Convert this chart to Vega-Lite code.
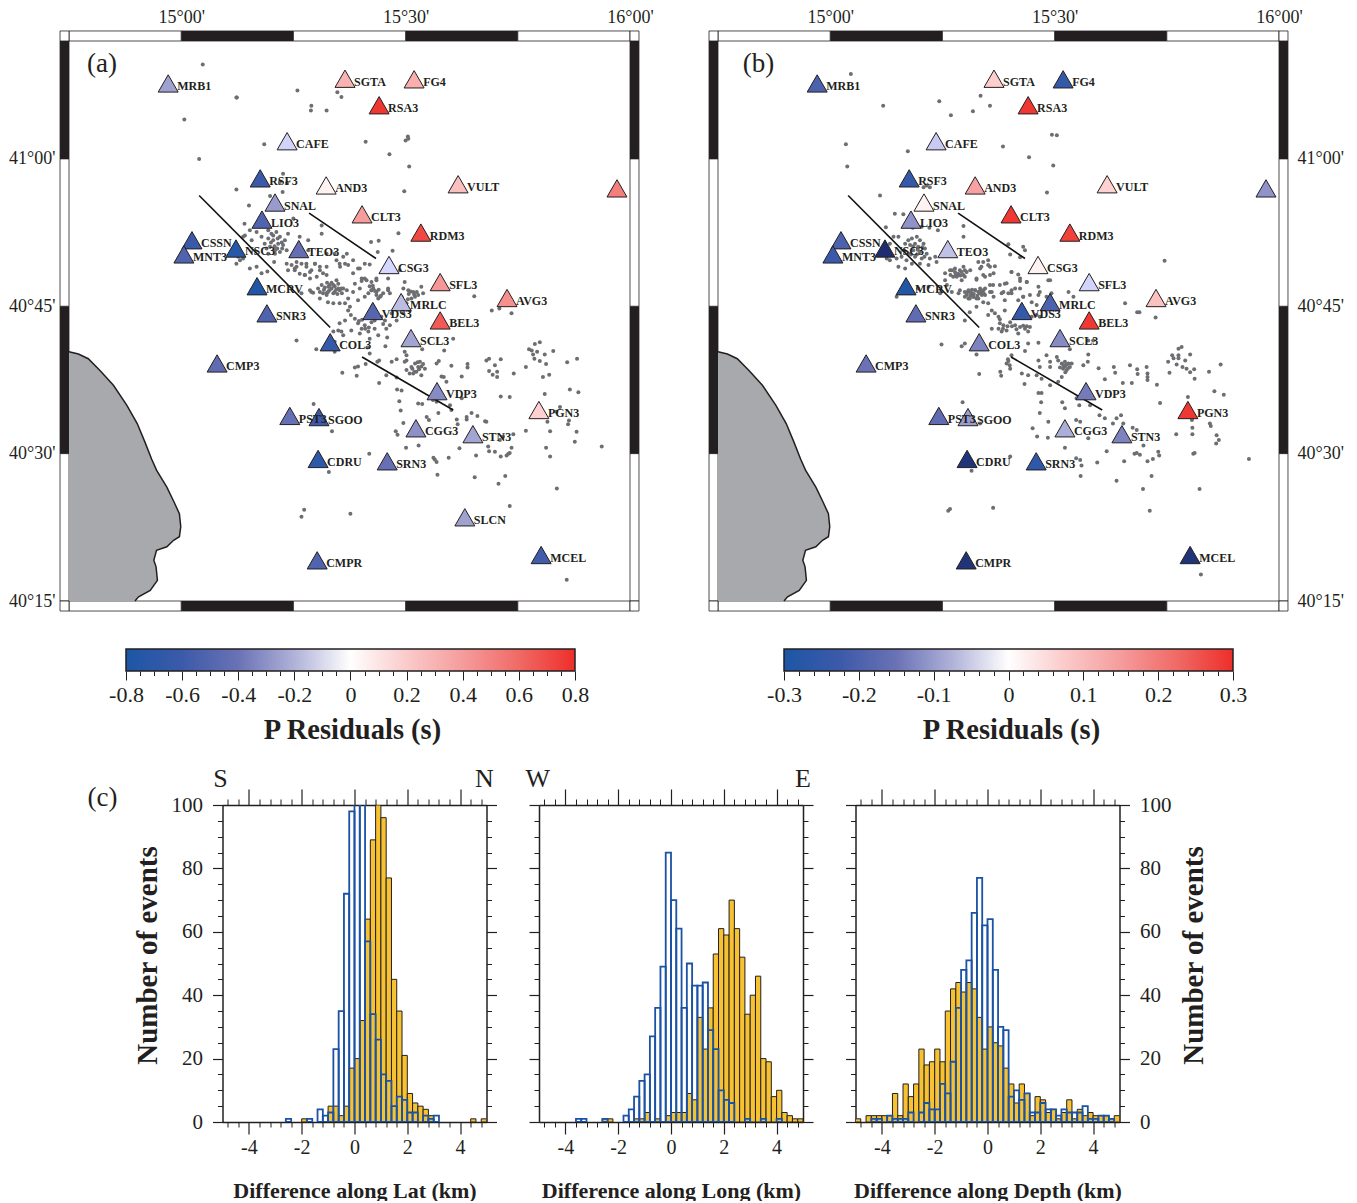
{"$schema":"https://vega.github.io/schema/vega-lite/v6.json","padding":{"left":8,"top":8,"right":0,"bottom":0},"background":"white",
"config":{"view":{"stroke":null},"axis":{"grid":false,"labelFont":"Liberation Serif","titleFont":"Liberation Serif","labelColor":"#231f20","titleColor":"#231f20","tickColor":"#231f20","domainColor":"#231f20","labelOverlap":false,"labelFlush":false,"labelBound":false}},
"datasets":{
"frame":[
{"lon":15,"lon2":15.25,"lat":41.2,"lat2":41.217,"band":"dark"},{"lon":15.5,"lon2":15.75,"lat":41.2,"lat2":41.217,"band":"dark"},
{"lon":15,"lon2":15.25,"lat":40.233,"lat2":40.25,"band":"dark"},{"lon":15.5,"lon2":15.75,"lat":40.233,"lat2":40.25,"band":"dark"},
{"lon":14.73,"lon2":14.75,"lat":40.5,"lat2":40.75,"band":"dark"},{"lon":14.73,"lon2":14.75,"lat":41,"lat2":41.2,"band":"dark"},
{"lon":16,"lon2":16.02,"lat":40.5,"lat2":40.75,"band":"dark"},{"lon":16,"lon2":16.02,"lat":41,"lat2":41.2,"band":"dark"},
{"lon":14.75,"lon2":15,"lat":41.2,"lat2":41.217,"band":"light"},{"lon":15.25,"lon2":15.5,"lat":41.2,"lat2":41.217,"band":"light"},{"lon":15.75,"lon2":16,"lat":41.2,"lat2":41.217,"band":"light"},
{"lon":14.75,"lon2":15,"lat":40.233,"lat2":40.25,"band":"light"},{"lon":15.25,"lon2":15.5,"lat":40.233,"lat2":40.25,"band":"light"},{"lon":15.75,"lon2":16,"lat":40.233,"lat2":40.25,"band":"light"},
{"lon":14.73,"lon2":14.75,"lat":40.25,"lat2":40.5,"band":"light"},{"lon":14.73,"lon2":14.75,"lat":40.75,"lat2":41,"band":"light"},
{"lon":16,"lon2":16.02,"lat":40.25,"lat2":40.5,"band":"light"},{"lon":16,"lon2":16.02,"lat":40.75,"lat2":41,"band":"light"},
{"lon":14.73,"lon2":14.75,"lat":41.2,"lat2":41.217,"band":"light"},{"lon":16,"lon2":16.02,"lat":41.2,"lat2":41.217,"band":"light"},
{"lon":14.73,"lon2":14.75,"lat":40.233,"lat2":40.25,"band":"light"},{"lon":16,"lon2":16.02,"lat":40.233,"lat2":40.25,"band":"light"}],
"coast":[{"lon":14.75,"lat":40.673,"w":14.75},{"lon":14.771,"lat":40.669,"w":14.75},{"lon":14.793,"lat":40.661,"w":14.75},{"lon":14.819,"lat":40.641,"w":14.75},{"lon":14.849,"lat":40.616,"w":14.75},{"lon":14.879,"lat":40.582,"w":14.75},{"lon":14.902,"lat":40.551,"w":14.75},{"lon":14.919,"lat":40.52,"w":14.75},{"lon":14.934,"lat":40.491,"w":14.75},{"lon":14.945,"lat":40.472,"w":14.75},{"lon":14.968,"lat":40.443,"w":14.75},{"lon":14.984,"lat":40.418,"w":14.75},{"lon":14.996,"lat":40.398,"w":14.75},{"lon":14.999,"lat":40.376,"w":14.75},{"lon":14.996,"lat":40.359,"w":14.75},{"lon":14.983,"lat":40.353,"w":14.75},{"lon":14.968,"lat":40.342,"w":14.75},{"lon":14.945,"lat":40.336,"w":14.75},{"lon":14.939,"lat":40.319,"w":14.75},{"lon":14.944,"lat":40.308,"w":14.75},{"lon":14.947,"lat":40.285,"w":14.75},{"lon":14.931,"lat":40.268,"w":14.75},{"lon":14.905,"lat":40.257,"w":14.75},{"lon":14.897,"lat":40.25,"w":14.75}],
"faults":[{"id":1,"lon":15.04,"lat":40.938},{"id":1,"lon":15.332,"lat":40.714},{"id":2,"lon":15.285,"lat":40.908},{"id":2,"lon":15.434,"lat":40.831},{"id":3,"lon":15.403,"lat":40.664},{"id":3,"lon":15.606,"lat":40.574}],
"stations":[
{"name":"MRB1","lon":14.971,"lat":41.128,"ra":-0.25,"rb":-0.2},
{"name":"SGTA","lon":15.365,"lat":41.136,"ra":0.3,"rb":0.07},
{"name":"FG4","lon":15.519,"lat":41.135,"ra":0.32,"rb":-0.25},
{"name":"RSA3","lon":15.441,"lat":41.091,"ra":0.78,"rb":0.29},
{"name":"CAFE","lon":15.236,"lat":41.03,"ra":-0.11,"rb":-0.05},
{"name":"RSF3","lon":15.176,"lat":40.967,"ra":-0.62,"rb":-0.25},
{"name":"AND3","lon":15.323,"lat":40.955,"ra":0,"rb":0.14},
{"name":"VULT","lon":15.617,"lat":40.957,"ra":0.25,"rb":0.06},
{"name":"SNAL","lon":15.209,"lat":40.926,"ra":-0.27,"rb":0},
{"name":"LIO3","lon":15.18,"lat":40.897,"ra":-0.52,"rb":-0.11},
{"name":"CLT3","lon":15.403,"lat":40.906,"ra":0.4,"rb":0.29},
{"name":"RDM3","lon":15.534,"lat":40.875,"ra":0.72,"rb":0.28},
{"name":"CSSN","lon":15.024,"lat":40.862,"ra":-0.62,"rb":-0.2},
{"name":"MNT3","lon":15.006,"lat":40.838,"ra":-0.52,"rb":-0.23},
{"name":"NSC3","lon":15.122,"lat":40.848,"ra":-0.75,"rb":-0.4},
{"name":"TEO3","lon":15.262,"lat":40.847,"ra":-0.43,"rb":-0.06},
{"name":"CSG3","lon":15.463,"lat":40.82,"ra":-0.1,"rb":0},
{"name":"SFL3","lon":15.577,"lat":40.791,"ra":0.42,"rb":-0.04},
{"name":"MCRV","lon":15.169,"lat":40.784,"ra":-0.78,"rb":-0.29},
{"name":"AVG3","lon":15.726,"lat":40.764,"ra":0.45,"rb":0.09},
{"name":"MRLC","lon":15.49,"lat":40.757,"ra":-0.17,"rb":-0.2},
{"name":"VDS3","lon":15.427,"lat":40.742,"ra":-0.5,"rb":-0.25},
{"name":"SNR3","lon":15.191,"lat":40.738,"ra":-0.52,"rb":-0.17},
{"name":"BEL3","lon":15.577,"lat":40.726,"ra":0.66,"rb":0.29},
{"name":"SCL3","lon":15.512,"lat":40.696,"ra":-0.24,"rb":-0.12},
{"name":"COL3","lon":15.332,"lat":40.689,"ra":-0.65,"rb":-0.13},
{"name":"CMP3","lon":15.08,"lat":40.653,"ra":-0.45,"rb":-0.15},
{"name":"VDP3","lon":15.57,"lat":40.606,"ra":-0.32,"rb":-0.14},
{"name":"PGN3","lon":15.797,"lat":40.574,"ra":0.17,"rb":0.29},
{"name":"PST3","lon":15.242,"lat":40.564,"ra":-0.42,"rb":-0.17},
{"name":"SGOO","lon":15.307,"lat":40.562,"ra":-0.6,"rb":-0.1},
{"name":"CGG3","lon":15.523,"lat":40.543,"ra":-0.3,"rb":-0.08},
{"name":"STN3","lon":15.65,"lat":40.533,"ra":-0.24,"rb":-0.13},
{"name":"CDRU","lon":15.305,"lat":40.491,"ra":-0.7,"rb":-0.38},
{"name":"SRN3","lon":15.459,"lat":40.487,"ra":-0.42,"rb":-0.26},
{"name":"SLCN","lon":15.632,"lat":40.392,"ra":-0.25,"rb":null},
{"name":"CMPR","lon":15.303,"lat":40.319,"ra":-0.52,"rb":-0.38},
{"name":"MCEL","lon":15.802,"lat":40.328,"ra":-0.58,"rb":-0.38},
{"name":"","lon":15.971,"lat":40.95,"ra":0.52,"rb":-0.11}],
"dotsA":[{"lon":15.048,"lat":41.16},{"lon":15.123,"lat":41.104},{"lon":15.259,"lat":41.116},{"lon":15.348,"lat":41.113},{"lon":15.357,"lat":41.105},{"lon":15.289,"lat":41.082},{"lon":15.324,"lat":41.082},{"lon":15.007,"lat":41.067},{"lon":15.185,"lat":41.025},{"lon":15.411,"lat":41.029},{"lon":15.506,"lat":41.034},{"lon":15.5,"lat":41.031},{"lon":15.464,"lat":41.008},{"lon":15.04,"lat":41},{"lon":15.508,"lat":40.987},{"lon":15.123,"lat":40.948},{"lon":15.227,"lat":40.975},{"lon":15.22,"lat":40.961},{"lon":15.236,"lat":40.959},{"lon":15.226,"lat":40.944},{"lon":15.198,"lat":40.937},{"lon":15.151,"lat":40.921},{"lon":15.497,"lat":40.945},{"lon":15.141,"lat":40.89},{"lon":15.313,"lat":40.887},{"lon":15.313,"lat":40.873},{"lon":15.25,"lat":40.899},{"lon":15.484,"lat":40.874},{"lon":15.423,"lat":40.859},{"lon":15.44,"lat":40.861},{"lon":15.438,"lat":40.842},{"lon":15.471,"lat":40.844},
{"lon":15.194,"lat":40.879},{"lon":15.201,"lat":40.873},{"lon":15.212,"lat":40.876},{"lon":15.22,"lat":40.868},{"lon":15.231,"lat":40.862},{"lon":15.238,"lat":40.873},{"lon":15.227,"lat":40.854},{"lon":15.216,"lat":40.856},{"lon":15.205,"lat":40.862},{"lon":15.194,"lat":40.865},{"lon":15.186,"lat":40.856},{"lon":15.198,"lat":40.851},{"lon":15.209,"lat":40.845},{"lon":15.22,"lat":40.842},{"lon":15.235,"lat":40.845},{"lon":15.194,"lat":40.839},{"lon":15.179,"lat":40.868},{"lon":15.168,"lat":40.876},{"lon":15.153,"lat":40.879},{"lon":15.138,"lat":40.868},{"lon":15.157,"lat":40.862},{"lon":15.142,"lat":40.87},{"lon":15.131,"lat":40.828},{"lon":15.123,"lat":40.822},{"lon":15.138,"lat":40.831},{"lon":15.127,"lat":40.834},{"lon":15.153,"lat":40.814},{"lon":15.168,"lat":40.817},{"lon":15.192,"lat":40.809},{"lon":15.179,"lat":40.806},{"lon":15.209,"lat":40.839},{"lon":15.207,"lat":40.825},{"lon":15.235,"lat":40.822},{"lon":15.246,"lat":40.82},{"lon":15.257,"lat":40.817},{"lon":15.238,"lat":40.811},{"lon":15.253,"lat":40.811},{"lon":15.268,"lat":40.822},{"lon":15.279,"lat":40.817},{"lon":15.298,"lat":40.822},{"lon":15.309,"lat":40.817},{"lon":15.29,"lat":40.811},{"lon":15.276,"lat":40.803},{"lon":15.287,"lat":40.797},{"lon":15.302,"lat":40.8},{"lon":15.316,"lat":40.806},{"lon":15.324,"lat":40.817},{"lon":15.346,"lat":40.828},{"lon":15.361,"lat":40.834},{"lon":15.369,"lat":40.839},{"lon":15.383,"lat":40.828},{"lon":15.365,"lat":40.822},{"lon":15.354,"lat":40.817},{"lon":15.342,"lat":40.839},{"lon":15.324,"lat":40.839},{"lon":15.313,"lat":40.786},{"lon":15.328,"lat":40.783},{"lon":15.339,"lat":40.786},{"lon":15.35,"lat":40.78},{"lon":15.361,"lat":40.78},{"lon":15.342,"lat":40.774},{"lon":15.324,"lat":40.772},{"lon":15.309,"lat":40.774},{"lon":15.369,"lat":40.777},{"lon":15.29,"lat":40.774},{"lon":15.268,"lat":40.772},{"lon":15.283,"lat":40.845},{"lon":15.283,"lat":40.862},{"lon":15.264,"lat":40.868},{"lon":15.398,"lat":40.814},{"lon":15.409,"lat":40.797},{"lon":15.424,"lat":40.791},{"lon":15.402,"lat":40.797},{"lon":15.383,"lat":40.806},{"lon":15.435,"lat":40.797},{"lon":15.424,"lat":40.777},{"lon":15.435,"lat":40.774},{"lon":15.398,"lat":40.78},{"lon":15.461,"lat":40.797},{"lon":15.461,"lat":40.777},{"lon":15.487,"lat":40.811},{"lon":15.491,"lat":40.766},{"lon":15.443,"lat":40.766},
{"lon":15.32,"lat":40.782},{"lon":15.327,"lat":40.774},{"lon":15.335,"lat":40.78},{"lon":15.342,"lat":40.784},{"lon":15.35,"lat":40.788},{"lon":15.353,"lat":40.777},{"lon":15.339,"lat":40.772},{"lon":15.324,"lat":40.769},{"lon":15.346,"lat":40.794},{"lon":15.357,"lat":40.78},{"lon":15.331,"lat":40.786},{"lon":15.316,"lat":40.772},{"lon":15.387,"lat":40.788},{"lon":15.402,"lat":40.793},{"lon":15.413,"lat":40.794},{"lon":15.424,"lat":40.777},{"lon":15.417,"lat":40.772},{"lon":15.435,"lat":40.769},{"lon":15.439,"lat":40.763},{"lon":15.428,"lat":40.78},{"lon":15.45,"lat":40.772},{"lon":15.435,"lat":40.794},{"lon":15.383,"lat":40.774},{"lon":15.372,"lat":40.763},{"lon":15.365,"lat":40.755},{"lon":15.376,"lat":40.749},{"lon":15.353,"lat":40.755},{"lon":15.339,"lat":40.755},{"lon":15.327,"lat":40.757},{"lon":15.309,"lat":40.763},{"lon":15.294,"lat":40.773},{"lon":15.287,"lat":40.777},{"lon":15.394,"lat":40.76},{"lon":15.409,"lat":40.766},{"lon":15.372,"lat":40.743},{"lon":15.387,"lat":40.729},{"lon":15.394,"lat":40.721},{"lon":15.402,"lat":40.712},{"lon":15.409,"lat":40.718},{"lon":15.424,"lat":40.723},{"lon":15.431,"lat":40.712},{"lon":15.439,"lat":40.701},{"lon":15.457,"lat":40.712},{"lon":15.465,"lat":40.718},{"lon":15.446,"lat":40.732},{"lon":15.454,"lat":40.726},{"lon":15.365,"lat":40.726},{"lon":15.353,"lat":40.721},{"lon":15.35,"lat":40.709},{"lon":15.339,"lat":40.707},{"lon":15.357,"lat":40.707},{"lon":15.379,"lat":40.709},{"lon":15.398,"lat":40.704},{"lon":15.417,"lat":40.707},{"lon":15.42,"lat":40.695},{"lon":15.431,"lat":40.726},{"lon":15.469,"lat":40.738},{"lon":15.495,"lat":40.78},{"lon":15.506,"lat":40.777},{"lon":15.517,"lat":40.774},{"lon":15.513,"lat":40.763},{"lon":15.521,"lat":40.766},{"lon":15.502,"lat":40.755},{"lon":15.509,"lat":40.743},{"lon":15.495,"lat":40.738},{"lon":15.48,"lat":40.726},{"lon":15.465,"lat":40.772},{"lon":15.461,"lat":40.78},{"lon":15.498,"lat":40.791},{"lon":15.535,"lat":40.783},{"lon":15.539,"lat":40.772},{"lon":15.528,"lat":40.769},{"lon":15.253,"lat":40.814},{"lon":15.264,"lat":40.805},{"lon":15.275,"lat":40.803},{"lon":15.287,"lat":40.808},{"lon":15.298,"lat":40.822},{"lon":15.309,"lat":40.811},{"lon":15.279,"lat":40.822},{"lon":15.257,"lat":40.825},{"lon":15.324,"lat":40.803},{"lon":15.353,"lat":40.822},{"lon":15.372,"lat":40.82},{"lon":15.394,"lat":40.814},{"lon":15.409,"lat":40.822},{"lon":15.42,"lat":40.821},
{"lon":15.257,"lat":40.692},{"lon":15.359,"lat":40.637},{"lon":15.391,"lat":40.632},{"lon":15.387,"lat":40.646},{"lon":15.394,"lat":40.648},{"lon":15.441,"lat":40.62},{"lon":15.411,"lat":40.652},{"lon":15.437,"lat":40.656},{"lon":15.441,"lat":40.658},{"lon":15.469,"lat":40.656},{"lon":15.48,"lat":40.66},{"lon":15.498,"lat":40.656},{"lon":15.502,"lat":40.658},{"lon":15.457,"lat":40.633},{"lon":15.48,"lat":40.629},{"lon":15.502,"lat":40.642},{"lon":15.513,"lat":40.647},{"lon":15.521,"lat":40.653},{"lon":15.532,"lat":40.656},{"lon":15.539,"lat":40.652},{"lon":15.509,"lat":40.636},{"lon":15.524,"lat":40.639},{"lon":15.535,"lat":40.633},{"lon":15.543,"lat":40.644},{"lon":15.528,"lat":40.647},{"lon":15.569,"lat":40.653},{"lon":15.574,"lat":40.657},{"lon":15.602,"lat":40.649},{"lon":15.638,"lat":40.652},{"lon":15.638,"lat":40.646},{"lon":15.625,"lat":40.631},{"lon":15.58,"lat":40.631},{"lon":15.585,"lat":40.63},{"lon":15.591,"lat":40.622},{"lon":15.68,"lat":40.658},{"lon":15.686,"lat":40.661},{"lon":15.712,"lat":40.66},{"lon":15.699,"lat":40.65},{"lon":15.686,"lat":40.64},{"lon":15.694,"lat":40.634},{"lon":15.704,"lat":40.639},{"lon":15.704,"lat":40.63},{"lon":15.741,"lat":40.636},{"lon":15.768,"lat":40.647},{"lon":15.788,"lat":40.686},{"lon":15.799,"lat":40.689},{"lon":15.775,"lat":40.677},{"lon":15.781,"lat":40.675},{"lon":15.793,"lat":40.673},{"lon":15.784,"lat":40.668},{"lon":15.787,"lat":40.661},{"lon":15.799,"lat":40.657},{"lon":15.81,"lat":40.668},{"lon":15.813,"lat":40.652},{"lon":15.829,"lat":40.674},{"lon":15.86,"lat":40.655},{"lon":15.882,"lat":40.661},{"lon":15.806,"lat":40.63},{"lon":15.82,"lat":40.634},{"lon":15.866,"lat":40.609},{"lon":15.885,"lat":40.604},{"lon":15.81,"lat":40.601},{"lon":15.712,"lat":40.597},{"lon":15.732,"lat":40.596},{"lon":15.481,"lat":40.609},{"lon":15.491,"lat":40.607},{"lon":15.486,"lat":40.589},{"lon":15.489,"lat":40.573},{"lon":15.528,"lat":40.585},{"lon":15.537,"lat":40.584},{"lon":15.573,"lat":40.569},{"lon":15.547,"lat":40.562},{"lon":15.552,"lat":40.557},{"lon":15.495,"lat":40.552},{"lon":15.478,"lat":40.538},{"lon":15.482,"lat":40.532},{"lon":15.614,"lat":40.558},{"lon":15.616,"lat":40.55},{"lon":15.636,"lat":40.562},{"lon":15.636,"lat":40.558},{"lon":15.647,"lat":40.569},{"lon":15.66,"lat":40.564},{"lon":15.677,"lat":40.555},{"lon":15.68,"lat":40.554},{"lon":15.625,"lat":40.594},{"lon":15.599,"lat":40.582},{"lon":15.602,"lat":40.574},{"lon":15.561,"lat":40.591},{"lon":15.569,"lat":40.588},{"lon":15.844,"lat":40.579},{"lon":15.836,"lat":40.571},{"lon":15.816,"lat":40.554},{"lon":15.864,"lat":40.556},{"lon":15.862,"lat":40.55},{"lon":15.768,"lat":40.539},{"lon":15.822,"lat":40.538},{"lon":15.881,"lat":40.537},{"lon":15.877,"lat":40.52},{"lon":15.71,"lat":40.523},{"lon":15.74,"lat":40.533},{"lon":15.717,"lat":40.529},{"lon":15.684,"lat":40.512},{"lon":15.686,"lat":40.504},{"lon":15.699,"lat":40.503},{"lon":15.712,"lat":40.495},{"lon":15.725,"lat":40.497},{"lon":15.729,"lat":40.5},{"lon":15.736,"lat":40.51},{"lon":15.732,"lat":40.501},{"lon":15.657,"lat":40.497},{"lon":15.62,"lat":40.509},{"lon":15.596,"lat":40.493},{"lon":15.501,"lat":40.51},{"lon":15.529,"lat":40.514},{"lon":15.419,"lat":40.5},{"lon":15.336,"lat":40.538},{"lon":15.329,"lat":40.469},{"lon":15.562,"lat":40.493},{"lon":15.565,"lat":40.49},{"lon":15.569,"lat":40.486},{"lon":15.571,"lat":40.464},{"lon":15.654,"lat":40.46},{"lon":15.707,"lat":40.449},{"lon":15.722,"lat":40.462},{"lon":15.837,"lat":40.441},{"lon":15.813,"lat":40.51},{"lon":15.822,"lat":40.495},{"lon":15.937,"lat":40.512},{"lon":15.732,"lat":40.411},{"lon":15.274,"lat":40.405},{"lon":15.268,"lat":40.393},{"lon":15.377,"lat":40.398},{"lon":15.859,"lat":40.286},{"lon":15.295,"lat":40.584},{"lon":15.301,"lat":40.677},{"lon":15.342,"lat":40.673},{"lon":15.322,"lat":40.683},{"lon":15.653,"lat":40.767},{"lon":15.692,"lat":40.743},{"lon":15.709,"lat":40.746},{"lon":15.736,"lat":40.738},{"lon":15.606,"lat":40.695},{"lon":15.586,"lat":40.675},{"lon":15.537,"lat":40.677},{"lon":15.498,"lat":40.673},{"lon":15.502,"lat":40.667},{"lon":15.455,"lat":40.682},{"lon":15.459,"lat":40.697},{"lon":15.42,"lat":40.67},{"lon":15.415,"lat":40.68},{"lon":15.361,"lat":40.701},{"lon":15.342,"lat":40.69},{"lon":15.124,"lat":41.104},{"lon":15.29,"lat":41.09},{"lon":15.505,"lat":41.038},
{"lon":15.205,"lat":40.87},{"lon":15.215,"lat":40.865},{"lon":15.224,"lat":40.858},{"lon":15.208,"lat":40.852},{"lon":15.2,"lat":40.858},{"lon":15.225,"lat":40.848},{"lon":15.214,"lat":40.848},{"lon":15.19,"lat":40.848},{"lon":15.318,"lat":40.778},{"lon":15.33,"lat":40.777},{"lon":15.345,"lat":40.778},{"lon":15.335,"lat":40.79},{"lon":15.325,"lat":40.79},{"lon":15.348,"lat":40.771},{"lon":15.358,"lat":40.772},{"lon":15.305,"lat":40.78},{"lon":15.427,"lat":40.785},{"lon":15.42,"lat":40.784},{"lon":15.432,"lat":40.776},{"lon":15.44,"lat":40.778},{"lon":15.445,"lat":40.768},{"lon":15.507,"lat":40.771},{"lon":15.511,"lat":40.775},{"lon":15.519,"lat":40.77},{"lon":15.525,"lat":40.774},{"lon":15.505,"lat":40.762},{"lon":15.396,"lat":40.725},{"lon":15.41,"lat":40.712},{"lon":15.403,"lat":40.727},{"lon":15.418,"lat":40.714},{"lon":15.45,"lat":40.72},{"lon":15.378,"lat":40.735},{"lon":15.515,"lat":40.644},{"lon":15.52,"lat":40.639},{"lon":15.53,"lat":40.643},{"lon":15.517,"lat":40.636},{"lon":15.527,"lat":40.655},{"lon":15.535,"lat":40.648}],
"dotsB":[{"lon":15.046,"lat":41.144},{"lon":15.118,"lat":41.09},{"lon":15.243,"lat":41.098},{"lon":15.335,"lat":41.107},{"lon":15.356,"lat":41.09},{"lon":15.318,"lat":41.081},{"lon":15.269,"lat":41.074},{"lon":15.035,"lat":41.025},{"lon":15.173,"lat":41.013},{"lon":15.385,"lat":41.021},{"lon":15.494,"lat":41.041},{"lon":15.505,"lat":41.04},{"lon":15.443,"lat":41.003},{"lon":15.497,"lat":40.989},{"lon":15.038,"lat":40.987},{"lon":15.111,"lat":40.938},{"lon":15.483,"lat":40.943},{"lon":15.215,"lat":40.955},{"lon":15.222,"lat":40.952},{"lon":15.208,"lat":40.952},{"lon":15.144,"lat":40.907},{"lon":15.163,"lat":40.906},{"lon":15.297,"lat":40.886},{"lon":15.297,"lat":40.868},{"lon":15.124,"lat":40.884},{"lon":15.184,"lat":40.883},{"lon":15.204,"lat":40.885},{"lon":15.221,"lat":40.883},{"lon":15.24,"lat":40.879},{"lon":15.141,"lat":40.868},{"lon":15.152,"lat":40.868},{"lon":15.133,"lat":40.856},{"lon":15.397,"lat":40.855},{"lon":15.43,"lat":40.851},{"lon":15.434,"lat":40.845},{"lon":15.401,"lat":40.838},{"lon":15.423,"lat":40.833},
{"lon":15.174,"lat":40.862},{"lon":15.182,"lat":40.865},{"lon":15.193,"lat":40.868},{"lon":15.2,"lat":40.862},{"lon":15.208,"lat":40.856},{"lon":15.189,"lat":40.856},{"lon":15.178,"lat":40.854},{"lon":15.167,"lat":40.856},{"lon":15.196,"lat":40.851},{"lon":15.211,"lat":40.848},{"lon":15.185,"lat":40.845},{"lon":15.2,"lat":40.842},{"lon":15.174,"lat":40.839},{"lon":15.215,"lat":40.839},{"lon":15.189,"lat":40.834},{"lon":15.204,"lat":40.831},{"lon":15.222,"lat":40.831},{"lon":15.234,"lat":40.834},{"lon":15.17,"lat":40.828},{"lon":15.159,"lat":40.834},{"lon":15.148,"lat":40.831},{"lon":15.133,"lat":40.828},{"lon":15.126,"lat":40.831},{"lon":15.152,"lat":40.817},{"lon":15.167,"lat":40.814},{"lon":15.182,"lat":40.822},{"lon":15.2,"lat":40.822},{"lon":15.219,"lat":40.82},{"lon":15.237,"lat":40.825},{"lon":15.256,"lat":40.794},{"lon":15.267,"lat":40.811},{"lon":15.278,"lat":40.814},{"lon":15.289,"lat":40.811},{"lon":15.297,"lat":40.817},{"lon":15.304,"lat":40.808},{"lon":15.286,"lat":40.803},{"lon":15.274,"lat":40.8},{"lon":15.256,"lat":40.806},{"lon":15.26,"lat":40.786},{"lon":15.293,"lat":40.794},{"lon":15.312,"lat":40.811},{"lon":15.33,"lat":40.825},{"lon":15.352,"lat":40.828},{"lon":15.356,"lat":40.817},{"lon":15.334,"lat":40.814},{"lon":15.326,"lat":40.797},{"lon":15.345,"lat":40.8},{"lon":15.364,"lat":40.806},{"lon":15.378,"lat":40.786},{"lon":15.393,"lat":40.789},{"lon":15.404,"lat":40.808},{"lon":15.423,"lat":40.797},{"lon":15.438,"lat":40.791},{"lon":15.404,"lat":40.777},{"lon":15.423,"lat":40.78},{"lon":15.43,"lat":40.766},{"lon":15.464,"lat":40.783},{"lon":15.49,"lat":40.794},{"lon":15.3,"lat":40.766},{"lon":15.312,"lat":40.774},{"lon":15.323,"lat":40.777},{"lon":15.334,"lat":40.772},{"lon":15.345,"lat":40.78},{"lon":15.356,"lat":40.774},{"lon":15.319,"lat":40.766},{"lon":15.33,"lat":40.763},{"lon":15.338,"lat":40.769},{"lon":15.308,"lat":40.763},{"lon":15.364,"lat":40.766},{"lon":15.286,"lat":40.772},{"lon":15.271,"lat":40.774},{"lon":15.245,"lat":40.772},{"lon":15.219,"lat":40.783},{"lon":15.196,"lat":40.78},{"lon":15.178,"lat":40.772},{"lon":15.148,"lat":40.766},{"lon":15.49,"lat":40.766},{"lon":15.464,"lat":40.769},
{"lon":15.248,"lat":40.685},{"lon":15.293,"lat":40.682},{"lon":15.3,"lat":40.687},{"lon":15.326,"lat":40.668},{"lon":15.332,"lat":40.635},{"lon":15.379,"lat":40.639},{"lon":15.381,"lat":40.632},{"lon":15.397,"lat":40.657},{"lon":15.401,"lat":40.644},{"lon":15.393,"lat":40.653},{"lon":15.404,"lat":40.667},{"lon":15.433,"lat":40.618},{"lon":15.441,"lat":40.633},{"lon":15.427,"lat":40.636},{"lon":15.464,"lat":40.658},{"lon":15.467,"lat":40.647},{"lon":15.46,"lat":40.633},{"lon":15.471,"lat":40.627},{"lon":15.49,"lat":40.616},{"lon":15.508,"lat":40.622},{"lon":15.516,"lat":40.63},{"lon":15.482,"lat":40.667},{"lon":15.49,"lat":40.656},{"lon":15.49,"lat":40.647},{"lon":15.505,"lat":40.664},{"lon":15.508,"lat":40.658},{"lon":15.516,"lat":40.653},{"lon":15.523,"lat":40.656},{"lon":15.531,"lat":40.653},{"lon":15.538,"lat":40.653},{"lon":15.519,"lat":40.644},{"lon":15.527,"lat":40.642},{"lon":15.534,"lat":40.647},{"lon":15.523,"lat":40.648},{"lon":15.575,"lat":40.668},{"lon":15.574,"lat":40.656},{"lon":15.564,"lat":40.65},{"lon":15.598,"lat":40.645},{"lon":15.632,"lat":40.647},{"lon":15.635,"lat":40.637},{"lon":15.612,"lat":40.626},{"lon":15.652,"lat":40.62},{"lon":15.668,"lat":40.65},{"lon":15.672,"lat":40.62},{"lon":15.684,"lat":40.643},{"lon":15.685,"lat":40.635},{"lon":15.705,"lat":40.647},{"lon":15.707,"lat":40.636},{"lon":15.707,"lat":40.63},{"lon":15.707,"lat":40.625},{"lon":15.728,"lat":40.617},{"lon":15.753,"lat":40.656},{"lon":15.756,"lat":40.637},{"lon":15.762,"lat":40.667},{"lon":15.765,"lat":40.662},{"lon":15.776,"lat":40.667},{"lon":15.776,"lat":40.662},{"lon":15.776,"lat":40.678},{"lon":15.783,"lat":40.681},{"lon":15.791,"lat":40.658},{"lon":15.802,"lat":40.668},{"lon":15.772,"lat":40.651},{"lon":15.785,"lat":40.647},{"lon":15.794,"lat":40.644},{"lon":15.802,"lat":40.638},{"lon":15.811,"lat":40.643},{"lon":15.812,"lat":40.627},{"lon":15.844,"lat":40.639},{"lon":15.87,"lat":40.651},{"lon":15.797,"lat":40.596},{"lon":15.856,"lat":40.606},{"lon":15.877,"lat":40.6},{"lon":15.735,"lat":40.586},{"lon":15.612,"lat":40.56},{"lon":15.6,"lat":40.565},{"lon":15.464,"lat":40.603},{"lon":15.471,"lat":40.603},{"lon":15.47,"lat":40.587},{"lon":15.467,"lat":40.569},{"lon":15.517,"lat":40.587},{"lon":15.523,"lat":40.577},{"lon":15.549,"lat":40.594},{"lon":15.557,"lat":40.594},{"lon":15.555,"lat":40.582},{"lon":15.579,"lat":40.582},{"lon":15.486,"lat":40.554},{"lon":15.451,"lat":40.543},{"lon":15.461,"lat":40.529},{"lon":15.485,"lat":40.527},{"lon":15.548,"lat":40.557},{"lon":15.557,"lat":40.554},{"lon":15.575,"lat":40.526},{"lon":15.523,"lat":40.51},{"lon":15.616,"lat":40.504},{"lon":15.63,"lat":40.551},{"lon":15.638,"lat":40.56},{"lon":15.648,"lat":40.565},{"lon":15.653,"lat":40.551},{"lon":15.674,"lat":40.544},{"lon":15.683,"lat":40.54},{"lon":15.846,"lat":40.551},{"lon":15.848,"lat":40.547},{"lon":15.806,"lat":40.557},{"lon":15.807,"lat":40.544},{"lon":15.807,"lat":40.533},{"lon":15.771,"lat":40.533},{"lon":15.861,"lat":40.531},{"lon":15.866,"lat":40.523},{"lon":15.86,"lat":40.517},{"lon":15.809,"lat":40.5},{"lon":15.812,"lat":40.501},{"lon":15.698,"lat":40.514},{"lon":15.678,"lat":40.5},{"lon":15.683,"lat":40.501},{"lon":15.69,"lat":40.498},{"lon":15.707,"lat":40.487},{"lon":15.719,"lat":40.491},{"lon":15.731,"lat":40.503},{"lon":15.733,"lat":40.497},{"lon":15.655,"lat":40.487},{"lon":15.595,"lat":40.485},{"lon":15.548,"lat":40.492},{"lon":15.557,"lat":40.489},{"lon":15.56,"lat":40.48},{"lon":15.558,"lat":40.462},{"lon":15.638,"lat":40.454},{"lon":15.716,"lat":40.462},{"lon":15.697,"lat":40.44},{"lon":15.823,"lat":40.44},{"lon":15.933,"lat":40.491},{"lon":15.712,"lat":40.403},{"lon":15.826,"lat":40.295},{"lon":15.363,"lat":40.408},{"lon":15.267,"lat":40.406},{"lon":15.263,"lat":40.403},{"lon":15.315,"lat":40.471},{"lon":15.295,"lat":40.587},{"lon":15.334,"lat":40.551},{"lon":15.401,"lat":40.495},{"lon":15.657,"lat":40.755},{"lon":15.684,"lat":40.74},{"lon":15.689,"lat":40.74},{"lon":15.725,"lat":40.731},{"lon":15.745,"lat":40.827},{"lon":15.586,"lat":40.692},{"lon":15.575,"lat":40.692},{"lon":15.534,"lat":40.677},{"lon":15.464,"lat":40.688},{"lon":15.441,"lat":40.687},{"lon":15.434,"lat":40.674},
{"lon":15.308,"lat":40.777},{"lon":15.315,"lat":40.772},{"lon":15.323,"lat":40.777},{"lon":15.33,"lat":40.774},{"lon":15.337,"lat":40.772},{"lon":15.319,"lat":40.766},{"lon":15.304,"lat":40.769},{"lon":15.311,"lat":40.763},{"lon":15.326,"lat":40.763},{"lon":15.341,"lat":40.777},{"lon":15.334,"lat":40.78},{"lon":15.3,"lat":40.774},{"lon":15.345,"lat":40.769},{"lon":15.289,"lat":40.777},{"lon":15.278,"lat":40.808},{"lon":15.285,"lat":40.805},{"lon":15.293,"lat":40.808},{"lon":15.297,"lat":40.803},{"lon":15.271,"lat":40.811},{"lon":15.282,"lat":40.8},{"lon":15.3,"lat":40.811},{"lon":15.341,"lat":40.825},{"lon":15.352,"lat":40.82},{"lon":15.337,"lat":40.817},{"lon":15.367,"lat":40.818},{"lon":15.356,"lat":40.803},{"lon":15.341,"lat":40.803},{"lon":15.326,"lat":40.795},{"lon":15.356,"lat":40.786},{"lon":15.363,"lat":40.786},{"lon":15.389,"lat":40.788},{"lon":15.404,"lat":40.808},{"lon":15.419,"lat":40.804},{"lon":15.423,"lat":40.793},{"lon":15.438,"lat":40.791},{"lon":15.412,"lat":40.78},{"lon":15.404,"lat":40.772},{"lon":15.397,"lat":40.772},{"lon":15.386,"lat":40.774},{"lon":15.382,"lat":40.772},{"lon":15.36,"lat":40.774},{"lon":15.445,"lat":40.769},{"lon":15.467,"lat":40.774},{"lon":15.482,"lat":40.766},{"lon":15.493,"lat":40.772},{"lon":15.531,"lat":40.774},{"lon":15.542,"lat":40.766},{"lon":15.46,"lat":40.735},{"lon":15.467,"lat":40.732},{"lon":15.449,"lat":40.732},{"lon":15.326,"lat":40.749},{"lon":15.341,"lat":40.757},{"lon":15.352,"lat":40.755},{"lon":15.36,"lat":40.743},{"lon":15.367,"lat":40.738},{"lon":15.375,"lat":40.732},{"lon":15.378,"lat":40.721},{"lon":15.386,"lat":40.718},{"lon":15.393,"lat":40.709},{"lon":15.375,"lat":40.712},{"lon":15.36,"lat":40.712},{"lon":15.382,"lat":40.707},{"lon":15.401,"lat":40.723},{"lon":15.412,"lat":40.718},{"lon":15.423,"lat":40.715},{"lon":15.419,"lat":40.704},{"lon":15.434,"lat":40.712},{"lon":15.445,"lat":40.715},{"lon":15.441,"lat":40.707},{"lon":15.389,"lat":40.743},{"lon":15.352,"lat":40.735},{"lon":15.311,"lat":40.74},{"lon":15.3,"lat":40.726},{"lon":15.389,"lat":40.76},{"lon":15.419,"lat":40.76},{"lon":15.43,"lat":40.766},{"lon":15.486,"lat":40.794},{"lon":15.46,"lat":40.752},{"lon":15.449,"lat":40.757},
{"lon":15.185,"lat":40.852},{"lon":15.195,"lat":40.846},{"lon":15.205,"lat":40.85},{"lon":15.18,"lat":40.838},{"lon":15.193,"lat":40.838},{"lon":15.21,"lat":40.834},{"lon":15.165,"lat":40.845},{"lon":15.28,"lat":40.804},{"lon":15.29,"lat":40.802},{"lon":15.3,"lat":40.8},{"lon":15.268,"lat":40.803},{"lon":15.305,"lat":40.773},{"lon":15.312,"lat":40.768},{"lon":15.32,"lat":40.771},{"lon":15.328,"lat":40.768},{"lon":15.335,"lat":40.776},{"lon":15.316,"lat":40.778},{"lon":15.342,"lat":40.772},{"lon":15.378,"lat":40.728},{"lon":15.385,"lat":40.712},{"lon":15.395,"lat":40.716},{"lon":15.405,"lat":40.716},{"lon":15.415,"lat":40.711},{"lon":15.43,"lat":40.717},{"lon":15.438,"lat":40.716},{"lon":15.52,"lat":40.65},{"lon":15.527,"lat":40.651},{"lon":15.53,"lat":40.645},{"lon":15.512,"lat":40.646},{"lon":15.524,"lat":40.638},{"lon":15.4,"lat":40.65},{"lon":15.396,"lat":40.66}],
"latGold":[{"a":-2,"b":-1.8,"n":1},{"a":-1,"b":-0.8,"n":5},{"a":-0.8,"b":-0.6,"n":5},{"a":-0.6,"b":-0.4,"n":2},{"a":-0.4,"b":-0.2,"n":5},{"a":-0.2,"b":0,"n":17},{"a":0,"b":0.2,"n":20},{"a":0.2,"b":0.4,"n":32},{"a":0.4,"b":0.6,"n":64},{"a":0.6,"b":0.8,"n":89},{"a":0.8,"b":1,"n":100},{"a":1,"b":1.2,"n":96},{"a":1.2,"b":1.4,"n":77},{"a":1.4,"b":1.6,"n":45},{"a":1.6,"b":1.8,"n":35},{"a":1.8,"b":2,"n":21},{"a":2,"b":2.2,"n":9},{"a":2.2,"b":2.4,"n":6},{"a":2.4,"b":2.6,"n":5},{"a":2.6,"b":2.8,"n":4},{"a":2.8,"b":3,"n":2},{"a":4.4,"b":4.6,"n":1},{"a":4.8,"b":5,"n":1}],
"latBlue":[{"a":-2.6,"b":-2.4,"n":1},{"a":-1.8,"b":-1.6,"n":1},{"a":-1.4,"b":-1.2,"n":4},{"a":-1.2,"b":-1,"n":2},{"a":-1,"b":-0.8,"n":3},{"a":-0.8,"b":-0.6,"n":23},{"a":-0.6,"b":-0.4,"n":35},{"a":-0.4,"b":-0.2,"n":72},{"a":-0.2,"b":0,"n":98},{"a":0,"b":0.2,"n":110},{"a":0.2,"b":0.4,"n":110},{"a":0.4,"b":0.6,"n":57},{"a":0.6,"b":0.8,"n":34},{"a":0.8,"b":1,"n":26},{"a":1,"b":1.2,"n":15},{"a":1.2,"b":1.4,"n":13},{"a":1.4,"b":1.6,"n":5},{"a":1.6,"b":1.8,"n":8},{"a":1.8,"b":2,"n":7},{"a":2,"b":2.2,"n":3},{"a":2.2,"b":2.4,"n":3},{"a":2.6,"b":2.8,"n":2},{"a":2.8,"b":3,"n":1},{"a":3,"b":3.2,"n":2}],
"lonGold":[{"a":-2.6,"b":-2.4,"n":1},{"a":-2.4,"b":-2.2,"n":1},{"a":-1.4,"b":-1.2,"n":1},{"a":-1.2,"b":-1,"n":1},{"a":-1,"b":-0.8,"n":3},{"a":-0.6,"b":-0.4,"n":1},{"a":-0.2,"b":0,"n":2},{"a":0,"b":0.2,"n":3},{"a":0.2,"b":0.4,"n":3},{"a":0.4,"b":0.6,"n":3},{"a":0.6,"b":0.8,"n":9},{"a":0.8,"b":1,"n":7},{"a":1,"b":1.2,"n":33},{"a":1.2,"b":1.4,"n":23},{"a":1.4,"b":1.6,"n":36},{"a":1.6,"b":1.8,"n":53},{"a":1.8,"b":2,"n":61},{"a":2,"b":2.2,"n":59},{"a":2.2,"b":2.4,"n":70},{"a":2.4,"b":2.6,"n":61},{"a":2.6,"b":2.8,"n":52},{"a":2.8,"b":3,"n":34},{"a":3,"b":3.2,"n":40},{"a":3.2,"b":3.4,"n":46},{"a":3.4,"b":3.6,"n":20},{"a":3.6,"b":3.8,"n":19},{"a":3.8,"b":4,"n":8},{"a":4,"b":4.2,"n":10},{"a":4.2,"b":4.4,"n":3},{"a":4.4,"b":4.6,"n":2},{"a":4.6,"b":4.8,"n":1},{"a":4.8,"b":5,"n":1}],
"lonBlue":[{"a":-3.6,"b":-3.4,"n":1},{"a":-3.4,"b":-3.2,"n":1},{"a":-2.6,"b":-2.4,"n":1},{"a":-1.8,"b":-1.6,"n":2},{"a":-1.6,"b":-1.4,"n":4},{"a":-1.4,"b":-1.2,"n":8},{"a":-1.2,"b":-1,"n":13},{"a":-1,"b":-0.8,"n":15},{"a":-0.8,"b":-0.6,"n":27},{"a":-0.6,"b":-0.4,"n":36},{"a":-0.4,"b":-0.2,"n":49},{"a":-0.2,"b":0,"n":85},{"a":0,"b":0.2,"n":70},{"a":0.2,"b":0.4,"n":61},{"a":0.4,"b":0.6,"n":36},{"a":0.6,"b":0.8,"n":50},{"a":0.8,"b":1,"n":43},{"a":1,"b":1.2,"n":43},{"a":1.2,"b":1.4,"n":44},{"a":1.4,"b":1.6,"n":29},{"a":1.6,"b":1.8,"n":23},{"a":1.8,"b":2,"n":10},{"a":2,"b":2.2,"n":7},{"a":2.2,"b":2.4,"n":6},{"a":2.8,"b":3,"n":1},{"a":3.4,"b":3.6,"n":1},{"a":4,"b":4.2,"n":1}],
"depGold":[{"a":-5,"b":-4.8,"n":1},{"a":-4.6,"b":-4.4,"n":2},{"a":-4.4,"b":-4.2,"n":2},{"a":-4.2,"b":-4,"n":2},{"a":-4,"b":-3.8,"n":2},{"a":-3.8,"b":-3.6,"n":2},{"a":-3.6,"b":-3.4,"n":9},{"a":-3.4,"b":-3.2,"n":2},{"a":-3.2,"b":-3,"n":12},{"a":-3,"b":-2.8,"n":8},{"a":-2.8,"b":-2.6,"n":12},{"a":-2.6,"b":-2.4,"n":23},{"a":-2.4,"b":-2.2,"n":18},{"a":-2.2,"b":-2,"n":19},{"a":-2,"b":-1.8,"n":23},{"a":-1.8,"b":-1.6,"n":19},{"a":-1.6,"b":-1.4,"n":35},{"a":-1.4,"b":-1.2,"n":42},{"a":-1.2,"b":-1,"n":44},{"a":-1,"b":-0.8,"n":41},{"a":-0.8,"b":-0.6,"n":44},{"a":-0.6,"b":-0.4,"n":42},{"a":-0.4,"b":-0.2,"n":33},{"a":-0.2,"b":0,"n":23},{"a":0,"b":0.2,"n":30},{"a":0.2,"b":0.4,"n":25},{"a":0.4,"b":0.6,"n":24},{"a":0.6,"b":0.8,"n":17},{"a":0.8,"b":1,"n":12},{"a":1,"b":1.2,"n":6},{"a":1.2,"b":1.4,"n":12},{"a":1.4,"b":1.6,"n":9},{"a":1.6,"b":1.8,"n":2},{"a":1.8,"b":2,"n":8},{"a":2,"b":2.2,"n":7},{"a":2.2,"b":2.4,"n":3},{"a":2.4,"b":2.6,"n":4},{"a":2.6,"b":2.8,"n":1},{"a":2.8,"b":3,"n":3},{"a":3,"b":3.2,"n":7},{"a":3.2,"b":3.4,"n":1},{"a":3.4,"b":3.6,"n":4},{"a":3.6,"b":3.8,"n":2},{"a":3.8,"b":4,"n":3},{"a":4,"b":4.2,"n":2},{"a":4.2,"b":4.4,"n":2},{"a":4.4,"b":4.6,"n":2},{"a":4.6,"b":4.8,"n":1},{"a":4.8,"b":5,"n":2}],
"depBlue":[{"a":-4.4,"b":-4.2,"n":1},{"a":-4.2,"b":-4,"n":1},{"a":-3.8,"b":-3.6,"n":2},{"a":-3.6,"b":-3.4,"n":1},{"a":-3.4,"b":-3.2,"n":1},{"a":-3.2,"b":-3,"n":1},{"a":-3,"b":-2.8,"n":3},{"a":-2.6,"b":-2.4,"n":3},{"a":-2.4,"b":-2.2,"n":6},{"a":-2.2,"b":-2,"n":4},{"a":-2,"b":-1.8,"n":4},{"a":-1.8,"b":-1.6,"n":12},{"a":-1.6,"b":-1.4,"n":9},{"a":-1.4,"b":-1.2,"n":19},{"a":-1.2,"b":-1,"n":36},{"a":-1,"b":-0.8,"n":48},{"a":-0.8,"b":-0.6,"n":51},{"a":-0.6,"b":-0.4,"n":66},{"a":-0.4,"b":-0.2,"n":77},{"a":-0.2,"b":0,"n":62},{"a":0,"b":0.2,"n":64},{"a":0.2,"b":0.4,"n":48},{"a":0.4,"b":0.6,"n":30},{"a":0.6,"b":0.8,"n":29},{"a":0.8,"b":1,"n":8},{"a":1,"b":1.2,"n":10},{"a":1.2,"b":1.4,"n":7},{"a":1.4,"b":1.6,"n":9},{"a":1.6,"b":1.8,"n":3},{"a":1.8,"b":2,"n":3},{"a":2,"b":2.2,"n":6},{"a":2.2,"b":2.4,"n":4},{"a":2.4,"b":2.6,"n":4},{"a":2.6,"b":2.8,"n":2},{"a":2.8,"b":3,"n":4},{"a":3,"b":3.2,"n":3},{"a":3.2,"b":3.4,"n":3},{"a":3.4,"b":3.6,"n":3},{"a":3.6,"b":3.8,"n":5},{"a":3.8,"b":4,"n":1},{"a":4,"b":4.2,"n":1},{"a":4.2,"b":4.4,"n":2},{"a":4.4,"b":4.6,"n":2},{"a":4.6,"b":4.8,"n":1}]
},
"spacing":21,
"vconcat":[
{"spacing":36,"vconcat":[
{"hconcat":[
{"width":561,"height":560,"encoding":{"x":{"field":"lon","type":"quantitative","title":null,"scale":{"domain":[14.75,16],"nice":false,"zero":false},"axis":{"orient":"top","values":[15,15.5,16],"ticks":false,"domain":false,"labelFontSize":18,"labelPadding":15,"labelExpr":"datum.value==15?\"15°00'\":datum.value==15.5?\"15°30'\":\"16°00'\""}},"y":{"field":"lat","type":"quantitative","title":null,"scale":{"domain":[40.25,41.2],"nice":false,"zero":false},"axis":{"orient":"left","values":[40.25,40.5,40.75,41],"ticks":false,"domain":false,"labelFontSize":18,"labelPadding":14,"labelExpr":"datum.value==41?\"41°00'\":datum.value==40.75?\"40°45'\":datum.value==40.5?\"40°30'\":\"40°15'\""}}},
"layer":[
{"data":{"name":"frame"},"transform":[{"filter":"datum.band=='dark'"}],"mark":{"type":"rect","fill":"#231f20","stroke":"#231f20","strokeWidth":0.8},"encoding":{"x2":{"field":"lon2"},"y2":{"field":"lat2"}}},
{"data":{"name":"frame"},"transform":[{"filter":"datum.band=='light'"}],"mark":{"type":"rect","fill":"#ffffff","stroke":"#231f20","strokeWidth":0.8},"encoding":{"x2":{"field":"lon2"},"y2":{"field":"lat2"}}},
{"data":{"name":"coast"},"mark":{"type":"area","orient":"horizontal","fill":"#a7a9ac"},"encoding":{"x2":{"field":"w"}}},
{"data":{"name":"coast"},"mark":{"type":"line","stroke":"#231f20","strokeWidth":1.5},"encoding":{"order":{"field":"lat","sort":"descending"}}},
{"data":{"name":"dotsA"},"mark":{"type":"circle","size":16,"color":"#6d6e71","opacity":1}},
{"data":{"name":"faults"},"mark":{"type":"line","stroke":"#111111","strokeWidth":1.6},"encoding":{"detail":{"field":"id"}}},
{"data":{"name":"stations"},"mark":{"type":"point","shape":"triangle-up","size":400,"filled":true,"stroke":"#231f20","strokeWidth":1,"opacity":1},"encoding":{"fill":{"field":"ra","type":"quantitative","legend":null,"scale":{"domain":[-0.8,-0.6,-0.4,-0.2,0,0.2,0.4,0.6,0.8],"range":["#1d56a6","#3c5aa9","#6a72b5","#b0b2d8","#ffffff","#fbcaca","#f59c9c","#f06a66","#ee2e2a"]}}}},
{"data":{"name":"stations"},"mark":{"type":"text","align":"left","dx":9,"dy":3,"font":"Liberation Serif","fontWeight":"bold","fontSize":12,"color":"#231f20"},"encoding":{"text":{"field":"name"}}},
{"data":{"values":[{"lon":14.79,"lat":41.147,"t":"(a)"}]},"mark":{"type":"text","align":"left","baseline":"alphabetic","font":"Liberation Serif","fontSize":27,"color":"#231f20"},"encoding":{"text":{"field":"t"}}}
]},
{"width":561,"height":560,"encoding":{"x":{"field":"lon","type":"quantitative","title":null,"scale":{"domain":[14.75,16],"nice":false,"zero":false},"axis":{"orient":"top","values":[15,15.5,16],"ticks":false,"domain":false,"labelFontSize":18,"labelPadding":15,"labelExpr":"datum.value==15?\"15°00'\":datum.value==15.5?\"15°30'\":\"16°00'\""}},"y":{"field":"lat","type":"quantitative","title":null,"scale":{"domain":[40.25,41.2],"nice":false,"zero":false},"axis":{"orient":"right","values":[40.25,40.5,40.75,41],"ticks":false,"domain":false,"labelFontSize":18,"labelPadding":18,"labelExpr":"datum.value==41?\"41°00'\":datum.value==40.75?\"40°45'\":datum.value==40.5?\"40°30'\":\"40°15'\""}}},
"layer":[
{"data":{"name":"frame"},"transform":[{"filter":"datum.band=='dark'"}],"mark":{"type":"rect","fill":"#231f20","stroke":"#231f20","strokeWidth":0.8},"encoding":{"x2":{"field":"lon2"},"y2":{"field":"lat2"}}},
{"data":{"name":"frame"},"transform":[{"filter":"datum.band=='light'"}],"mark":{"type":"rect","fill":"#ffffff","stroke":"#231f20","strokeWidth":0.8},"encoding":{"x2":{"field":"lon2"},"y2":{"field":"lat2"}}},
{"data":{"name":"coast"},"mark":{"type":"area","orient":"horizontal","fill":"#a7a9ac"},"encoding":{"x2":{"field":"w"}}},
{"data":{"name":"coast"},"mark":{"type":"line","stroke":"#231f20","strokeWidth":1.5},"encoding":{"order":{"field":"lat","sort":"descending"}}},
{"data":{"name":"dotsB"},"mark":{"type":"circle","size":16,"color":"#6d6e71","opacity":1}},
{"data":{"name":"faults"},"mark":{"type":"line","stroke":"#111111","strokeWidth":1.6},"encoding":{"detail":{"field":"id"}}},
{"data":{"name":"stations"},"transform":[{"filter":"datum.rb!==null"}],"mark":{"type":"point","shape":"triangle-up","size":400,"filled":true,"stroke":"#231f20","strokeWidth":1,"opacity":1},"encoding":{"fill":{"field":"rb","type":"quantitative","legend":null,"scale":{"domain":[-0.4,-0.3,-0.225,-0.15,-0.075,0,0.075,0.15,0.225,0.3],"range":["#1f2d6e","#1d56a6","#3c5aa9","#6a72b5","#b0b2d8","#ffffff","#fbcaca","#f59c9c","#f06a66","#ee2e2a"]}}}},
{"data":{"name":"stations"},"transform":[{"filter":"datum.rb!==null"}],"mark":{"type":"text","align":"left","dx":9,"dy":3,"font":"Liberation Serif","fontWeight":"bold","fontSize":12,"color":"#231f20"},"encoding":{"text":{"field":"name"}}},
{"data":{"values":[{"lon":14.805,"lat":41.147,"t":"(b)"}]},"mark":{"type":"text","align":"left","baseline":"alphabetic","font":"Liberation Serif","fontSize":27,"color":"#231f20"},"encoding":{"text":{"field":"t"}}}
]}
],"spacing":88,"bounds":"flush","resolve":{"scale":{"fill":"independent"}}},
{"hconcat":[
{"width":561,"height":22,"resolve":{"axis":{"x":"independent"}},"layer":[
{"data":{"values":[{"from":-0.8,"to":0.8,"v0":0,"v1":1}]},"mark":{"type":"rect","stroke":"#231f20","strokeWidth":1.5,"fill":{"gradient":"linear","x1":0,"x2":1,"y1":0,"y2":0,"stops":[{"offset":0,"color":"#1d56a6"},{"offset":0.125,"color":"#3c5aa9"},{"offset":0.25,"color":"#6a72b5"},{"offset":0.375,"color":"#b0b2d8"},{"offset":0.5,"color":"#ffffff"},{"offset":0.625,"color":"#fbcaca"},{"offset":0.75,"color":"#f59c9c"},{"offset":0.875,"color":"#f06a66"},{"offset":1,"color":"#ee2e2a"}]}},"encoding":{"x":{"field":"from","type":"quantitative","scale":{"domain":[-1.0031,0.996],"nice":false,"zero":false},"axis":{"orient":"bottom","values":[-0.8,-0.6,-0.4,-0.2,0,0.2,0.4,0.6,0.8],"domain":false,"tickSize":9,"labelFontSize":22,"labelPadding":4,"labelExpr":"''+datum.value","title":"P Residuals (s)","titleFontSize":28.5,"titleFontWeight":"bold","titlePadding":10,"titleX":283}},"x2":{"field":"to"},"y":{"field":"v0","type":"quantitative","axis":null,"scale":{"domain":[0,1]}},"y2":{"field":"v1"}}},
{"data":{"values":[]},"mark":"point","encoding":{"x":{"field":"from","type":"quantitative","scale":{"domain":[-1.0031,0.996],"nice":false,"zero":false},"axis":{"orient":"bottom","values":[-0.75,-0.7,-0.65,-0.55,-0.5,-0.45,-0.35,-0.3,-0.25,-0.15,-0.1,-0.05,0.05,0.1,0.15,0.25,0.3,0.35,0.45,0.5,0.55,0.65,0.7,0.75],"domain":false,"tickSize":4.5,"labels":false,"title":null}},"y":{"field":"v0","type":"quantitative","axis":null,"scale":{"domain":[0,1]}}}}
]},
{"width":561,"height":22,"resolve":{"axis":{"x":"independent"}},"layer":[
{"data":{"values":[{"from":-0.3,"to":0.3,"v0":0,"v1":1}]},"mark":{"type":"rect","stroke":"#231f20","strokeWidth":1.5,"fill":{"gradient":"linear","x1":0,"x2":1,"y1":0,"y2":0,"stops":[{"offset":0,"color":"#1d56a6"},{"offset":0.125,"color":"#3c5aa9"},{"offset":0.25,"color":"#6a72b5"},{"offset":0.375,"color":"#b0b2d8"},{"offset":0.5,"color":"#ffffff"},{"offset":0.625,"color":"#fbcaca"},{"offset":0.75,"color":"#f59c9c"},{"offset":0.875,"color":"#f06a66"},{"offset":1,"color":"#ee2e2a"}]}},"encoding":{"x":{"field":"from","type":"quantitative","scale":{"domain":[-0.3882,0.36147],"nice":false,"zero":false},"axis":{"orient":"bottom","values":[-0.3,-0.2,-0.1,0,0.1,0.2,0.3],"domain":false,"tickSize":9,"labelFontSize":22,"labelPadding":4,"labelExpr":"''+datum.value","title":"P Residuals (s)","titleFontSize":28.5,"titleFontWeight":"bold","titlePadding":10,"titleX":293}},"x2":{"field":"to"},"y":{"field":"v0","type":"quantitative","axis":null,"scale":{"domain":[0,1]}},"y2":{"field":"v1"}}},
{"data":{"values":[]},"mark":"point","encoding":{"x":{"field":"from","type":"quantitative","scale":{"domain":[-0.3882,0.36147],"nice":false,"zero":false},"axis":{"orient":"bottom","values":[-0.28,-0.26,-0.24,-0.22,-0.18,-0.16,-0.14,-0.12,-0.08,-0.06,-0.04,-0.02,0.02,0.04,0.06,0.08,0.12,0.14,0.16,0.18,0.22,0.24,0.26,0.28],"domain":false,"tickSize":4.5,"labels":false,"title":null}},"y":{"field":"v0","type":"quantitative","axis":null,"scale":{"domain":[0,1]}}}}
]}
],"spacing":88,"bounds":"flush"}
]},
{"hconcat":[
{"width":100.5,"height":317,"data":{"values":[]},"mark":"point","encoding":{}},
{"width":264,"height":317,"resolve":{"axis":{"x":"independent","y":"independent"}},"layer":[
{"data":{"name":"latGold"},"mark":{"type":"rect","fill":"#f7c231","stroke":"#231f20","strokeWidth":1,"clip":true},"encoding":{"x":{"field":"a","type":"quantitative","scale":{"domain":[-5,5],"nice":false,"zero":false},"axis":{"orient":"bottom","values":[-4,-2,0,2,4],"tickSize":12,"domainWidth":1.5,"tickWidth":1.2,"labelFontSize":20,"labelPadding":3,"labelExpr":"''+datum.value","title":"Difference along Lat (km)","titleFontSize":22,"titleFontWeight":"bold","titlePadding":23}},"x2":{"field":"b"},"y":{"field":"n","type":"quantitative","scale":{"domain":[0,100],"nice":false},"axis":{"orient":"left","values":[0,20,40,60,80,100],"tickSize":10,"domainWidth":1.5,"tickWidth":1.2,"labelFontSize":21,"labelPadding":10,"labelExpr":"''+datum.value","title":"Number of events","titleFontSize":29,"titleFontWeight":"bold","titlePadding":9,"titleY":150}},"y2":{"datum":0}}},
{"data":{"name":"latBlue"},"mark":{"type":"rect","fill":null,"stroke":"#1a52a5","strokeWidth":1.8,"clip":true},"encoding":{"x":{"field":"a","type":"quantitative","scale":{"domain":[-5,5],"nice":false,"zero":false},"axis":{"orient":"top","values":[-4,-2,0,2,4],"tickSize":16,"domainWidth":1.5,"tickWidth":1.2,"labels":false,"title":null}},"x2":{"field":"b"},"y":{"field":"n","type":"quantitative","scale":{"domain":[0,100],"nice":false},"axis":{"orient":"right","values":[0,20,40,60,80,100],"tickSize":10,"domainWidth":1.5,"tickWidth":1.2,"labels":false,"title":null}},"y2":{"datum":0}}},
{"data":{"values":[]},"mark":"point","encoding":{"x":{"field":"a","type":"quantitative","scale":{"domain":[-5,5],"nice":false,"zero":false},"axis":{"orient":"bottom","values":[-4.8,-4.4,-3.6,-3.2,-2.8,-2.4,-1.6,-1.2,-0.8,-0.4,0.4,0.8,1.2,1.6,2.4,2.8,3.2,3.6,4.4,4.8],"tickSize":5,"domain":false,"labels":false,"title":null}},"y":{"field":"n","type":"quantitative","scale":{"domain":[0,100],"nice":false},"axis":{"orient":"left","values":[5,10,15,25,30,35,45,50,55,65,70,75,85,90,95],"tickSize":5,"domain":false,"labels":false,"title":null}}}},
{"data":{"values":[]},"mark":"point","encoding":{"x":{"field":"a","type":"quantitative","scale":{"domain":[-5,5],"nice":false,"zero":false},"axis":{"orient":"top","values":[-4.8,-4.4,-3.6,-3.2,-2.8,-2.4,-1.6,-1.2,-0.8,-0.4,0.4,0.8,1.2,1.6,2.4,2.8,3.2,3.6,4.4,4.8],"tickSize":6,"domain":false,"labels":false,"title":null}},"y":{"field":"n","type":"quantitative","scale":{"domain":[0,100],"nice":false},"axis":{"orient":"right","values":[5,10,15,25,30,35,45,50,55,65,70,75,85,90,95],"tickSize":5,"domain":false,"labels":false,"title":null}}}},
{"data":{"values":[{"a":-5.08,"n":105.7,"t":"S"},{"a":4.92,"n":105.7,"t":"N"}]},"mark":{"type":"text","baseline":"alphabetic","font":"Liberation Serif","fontSize":26,"color":"#231f20"},"encoding":{"x":{"field":"a","type":"quantitative","axis":null,"scale":{"domain":[-5,5],"nice":false,"zero":false}},"y":{"field":"n","type":"quantitative","axis":null,"scale":{"domain":[0,100],"nice":false}},"text":{"field":"t"}}},
{"data":{"values":[{"a":-10.11,"n":99.7,"t":"(c)"}]},"mark":{"type":"text","align":"left","baseline":"alphabetic","font":"Liberation Serif","fontSize":27,"color":"#231f20"},"encoding":{"x":{"field":"a","type":"quantitative","axis":null,"scale":{"domain":[-5,5],"nice":false,"zero":false}},"y":{"field":"n","type":"quantitative","axis":null,"scale":{"domain":[0,100],"nice":false}},"text":{"field":"t"}}}
]},
{"width":264,"height":317,"resolve":{"axis":{"x":"independent","y":"independent"}},"layer":[
{"data":{"name":"lonGold"},"mark":{"type":"rect","fill":"#f7c231","stroke":"#231f20","strokeWidth":1,"clip":true},"encoding":{"x":{"field":"a","type":"quantitative","scale":{"domain":[-5,5],"nice":false,"zero":false},"axis":{"orient":"bottom","values":[-4,-2,0,2,4],"tickSize":12,"domainWidth":1.5,"tickWidth":1.2,"labelFontSize":20,"labelPadding":3,"labelExpr":"''+datum.value","title":"Difference along Long (km)","titleFontSize":22,"titleFontWeight":"bold","titlePadding":23}},"x2":{"field":"b"},"y":{"field":"n","type":"quantitative","scale":{"domain":[0,100],"nice":false},"axis":{"orient":"left","values":[0,20,40,60,80,100],"tickSize":10,"domainWidth":1.5,"tickWidth":1.2,"labels":false,"title":null}},"y2":{"datum":0}}},
{"data":{"name":"lonBlue"},"mark":{"type":"rect","fill":null,"stroke":"#1a52a5","strokeWidth":1.8,"clip":true},"encoding":{"x":{"field":"a","type":"quantitative","scale":{"domain":[-5,5],"nice":false,"zero":false},"axis":{"orient":"top","values":[-4,-2,0,2,4],"tickSize":16,"domainWidth":1.5,"tickWidth":1.2,"labels":false,"title":null}},"x2":{"field":"b"},"y":{"field":"n","type":"quantitative","scale":{"domain":[0,100],"nice":false},"axis":{"orient":"right","values":[0,20,40,60,80,100],"tickSize":10,"domainWidth":1.5,"tickWidth":1.2,"labels":false,"title":null}},"y2":{"datum":0}}},
{"data":{"values":[]},"mark":"point","encoding":{"x":{"field":"a","type":"quantitative","scale":{"domain":[-5,5],"nice":false,"zero":false},"axis":{"orient":"bottom","values":[-4.8,-4.4,-3.6,-3.2,-2.8,-2.4,-1.6,-1.2,-0.8,-0.4,0.4,0.8,1.2,1.6,2.4,2.8,3.2,3.6,4.4,4.8],"tickSize":5,"domain":false,"labels":false,"title":null}},"y":{"field":"n","type":"quantitative","scale":{"domain":[0,100],"nice":false},"axis":{"orient":"left","values":[5,10,15,25,30,35,45,50,55,65,70,75,85,90,95],"tickSize":5,"domain":false,"labels":false,"title":null}}}},
{"data":{"values":[]},"mark":"point","encoding":{"x":{"field":"a","type":"quantitative","scale":{"domain":[-5,5],"nice":false,"zero":false},"axis":{"orient":"top","values":[-4.8,-4.4,-3.6,-3.2,-2.8,-2.4,-1.6,-1.2,-0.8,-0.4,0.4,0.8,1.2,1.6,2.4,2.8,3.2,3.6,4.4,4.8],"tickSize":6,"domain":false,"labels":false,"title":null}},"y":{"field":"n","type":"quantitative","scale":{"domain":[0,100],"nice":false},"axis":{"orient":"right","values":[5,10,15,25,30,35,45,50,55,65,70,75,85,90,95],"tickSize":5,"domain":false,"labels":false,"title":null}}}},
{"data":{"values":[{"a":-5.05,"n":105.7,"t":"W"},{"a":5,"n":105.7,"t":"E"}]},"mark":{"type":"text","baseline":"alphabetic","font":"Liberation Serif","fontSize":26,"color":"#231f20"},"encoding":{"x":{"field":"a","type":"quantitative","axis":null,"scale":{"domain":[-5,5],"nice":false,"zero":false}},"y":{"field":"n","type":"quantitative","axis":null,"scale":{"domain":[0,100],"nice":false}},"text":{"field":"t"}}}
]},
{"width":264,"height":317,"resolve":{"axis":{"x":"independent","y":"independent"}},"layer":[
{"data":{"name":"depGold"},"mark":{"type":"rect","fill":"#f7c231","stroke":"#231f20","strokeWidth":1,"clip":true},"encoding":{"x":{"field":"a","type":"quantitative","scale":{"domain":[-5,5],"nice":false,"zero":false},"axis":{"orient":"bottom","values":[-4,-2,0,2,4],"tickSize":12,"domainWidth":1.5,"tickWidth":1.2,"labelFontSize":20,"labelPadding":3,"labelExpr":"''+datum.value","title":"Difference along Depth (km)","titleFontSize":22,"titleFontWeight":"bold","titlePadding":23}},"x2":{"field":"b"},"y":{"field":"n","type":"quantitative","scale":{"domain":[0,100],"nice":false},"axis":{"orient":"left","values":[0,20,40,60,80,100],"tickSize":10,"domainWidth":1.5,"tickWidth":1.2,"labels":false,"title":null}},"y2":{"datum":0}}},
{"data":{"name":"depBlue"},"mark":{"type":"rect","fill":null,"stroke":"#1a52a5","strokeWidth":1.8,"clip":true},"encoding":{"x":{"field":"a","type":"quantitative","scale":{"domain":[-5,5],"nice":false,"zero":false},"axis":{"orient":"top","values":[-4,-2,0,2,4],"tickSize":16,"domainWidth":1.5,"tickWidth":1.2,"labels":false,"title":null}},"x2":{"field":"b"},"y":{"field":"n","type":"quantitative","scale":{"domain":[0,100],"nice":false},"axis":{"orient":"right","values":[0,20,40,60,80,100],"tickSize":10,"domainWidth":1.5,"tickWidth":1.2,"labelFontSize":21,"labelPadding":10,"labelExpr":"''+datum.value","title":"Number of events","titleAngle":270,"titleFontSize":29,"titleFontWeight":"bold","titlePadding":37,"titleY":150}},"y2":{"datum":0}}},
{"data":{"values":[]},"mark":"point","encoding":{"x":{"field":"a","type":"quantitative","scale":{"domain":[-5,5],"nice":false,"zero":false},"axis":{"orient":"bottom","values":[-4.8,-4.4,-3.6,-3.2,-2.8,-2.4,-1.6,-1.2,-0.8,-0.4,0.4,0.8,1.2,1.6,2.4,2.8,3.2,3.6,4.4,4.8],"tickSize":5,"domain":false,"labels":false,"title":null}},"y":{"field":"n","type":"quantitative","scale":{"domain":[0,100],"nice":false},"axis":{"orient":"left","values":[5,10,15,25,30,35,45,50,55,65,70,75,85,90,95],"tickSize":5,"domain":false,"labels":false,"title":null}}}},
{"data":{"values":[]},"mark":"point","encoding":{"x":{"field":"a","type":"quantitative","scale":{"domain":[-5,5],"nice":false,"zero":false},"axis":{"orient":"top","values":[-4.8,-4.4,-3.6,-3.2,-2.8,-2.4,-1.6,-1.2,-0.8,-0.4,0.4,0.8,1.2,1.6,2.4,2.8,3.2,3.6,4.4,4.8],"tickSize":6,"domain":false,"labels":false,"title":null}},"y":{"field":"n","type":"quantitative","scale":{"domain":[0,100],"nice":false},"axis":{"orient":"right","values":[5,10,15,25,30,35,45,50,55,65,70,75,85,90,95],"tickSize":5,"domain":false,"labels":false,"title":null}}}}
]}
],"spacing":52.5,"bounds":"flush"}
]}
